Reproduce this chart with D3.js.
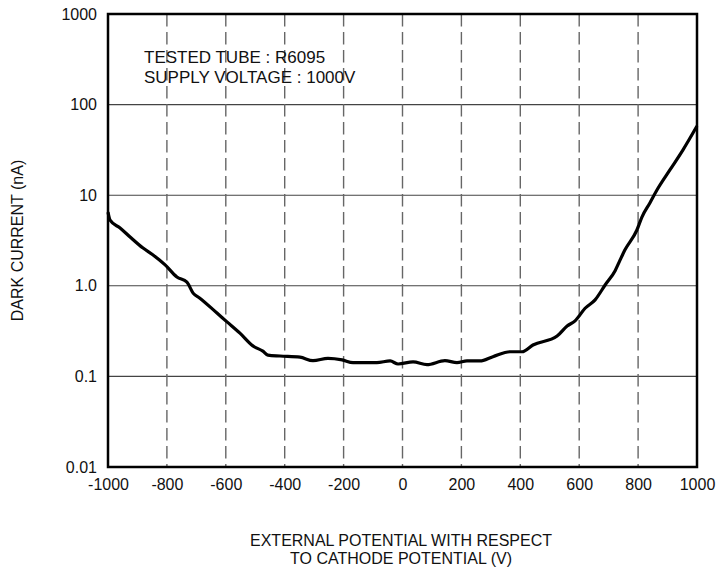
<!DOCTYPE html>
<html>
<head>
<meta charset="utf-8">
<script src="https://cdn.jsdelivr.net/npm/d3@7"></script>
<style>
  html, body { margin: 0; padding: 0; background: #fff; }
  svg { display: block; font-family: "Liberation Sans", Arial, Helvetica, sans-serif; }
</style>
</head>
<body>
<svg id="chart" width="719" height="570"></svg>
<script>
// ---- data ----
const potentials = [-1000,-993,-959,-925,-881,-847,-806,-766,-732,-711,-688,-630,-596,-552,-508,-474,-457,-416,-348,-304,-253,-205,-168,-87,-42,-15,36,83,144,185,219,263,307,365,406,443,525,559,586,620,654,688,722,739,755,796,813,840,864,908,952,1000];
const darkCurrent = [6.5,5.3,4.35,3.46,2.61,2.19,1.70,1.25,1.10,0.83,0.73,0.50,0.40,0.30,0.217,0.19,0.172,0.168,0.163,0.149,0.158,0.152,0.142,0.142,0.148,0.137,0.145,0.135,0.149,0.142,0.148,0.148,0.165,0.187,0.187,0.222,0.279,0.36,0.41,0.565,0.70,1.02,1.47,1.93,2.48,4.13,5.74,8.2,11.4,19.0,31.5,58];
const xTicks = [-1000,-800,-600,-400,-200,0,200,400,600,800,1000];
const yTicks = [0.01,0.1,1,10,100,1000];
const yTickLabels = ["0.01","0.1","1.0","10","100","1000"];
const annotations = ["TESTED TUBE : R6095", "SUPPLY VOLTAGE : 1000V"];
const yTitle = "DARK CURRENT (nA)";
const xTitleLines = ["EXTERNAL POTENTIAL WITH RESPECT", "TO CATHODE POTENTIAL (V)"];

// ---- layout ----
const pLeft = 108, pRight = 697, pTop = 14, pBottom = 467;
const svg = d3.select("#chart");
const x = d3.scaleLinear().domain([-1000, 1000]).range([pLeft, pRight]);
const y = d3.scaleLog().domain([0.01, 1000]).range([pBottom, pTop]);

// horizontal grid
svg.append("g").selectAll("line")
  .data(yTicks.slice(1, -1)).join("line")
  .attr("x1", pLeft).attr("x2", pRight)
  .attr("y1", d => y(d)).attr("y2", d => y(d))
  .attr("stroke", "#444").attr("stroke-width", 1.1);

// vertical dashed grid
svg.append("g").selectAll("line")
  .data(xTicks.slice(1, -1)).join("line")
  .attr("x1", d => x(d)).attr("x2", d => x(d))
  .attr("y1", pTop).attr("y2", pBottom)
  .attr("stroke", "#666").attr("stroke-width", 1.4)
  .attr("stroke-dasharray", "12.5,5.5");

// curve
const line = d3.line()
  .x((d, i) => x(potentials[i]))
  .y((d, i) => y(darkCurrent[i]))
  .curve(d3.curveMonotoneX);
svg.append("path")
  .datum(darkCurrent)
  .attr("d", line)
  .attr("fill", "none")
  .attr("stroke", "#000")
  .attr("stroke-width", 3.2)
  .attr("stroke-linejoin", "round");

// frame
svg.append("rect")
  .attr("x", pLeft).attr("y", pTop)
  .attr("width", pRight - pLeft).attr("height", pBottom - pTop)
  .attr("fill", "none").attr("stroke", "#000").attr("stroke-width", 2.5);

// axes
const yAxis = d3.axisLeft(y).tickValues(yTicks)
  .tickFormat((d, i) => yTickLabels[i]).tickSize(0).tickPadding(11);
const gy = svg.append("g").attr("transform", `translate(${pLeft},0)`).call(yAxis);
gy.select(".domain").remove();
gy.selectAll("text").attr("font-size", 16).attr("fill", "#111")
  .attr("font-family", '"Liberation Sans", Arial, sans-serif');

const xAxis = d3.axisBottom(x).tickValues(xTicks).tickFormat(d3.format("d")).tickSize(0).tickPadding(12);
const gx = svg.append("g").attr("transform", `translate(0,${pBottom})`).call(xAxis);
gx.select(".domain").remove();
gx.selectAll("text").attr("font-size", 16).attr("fill", "#111")
  .attr("font-family", '"Liberation Sans", Arial, sans-serif')
  .text(d => d < 0 ? "-" + Math.abs(d) : String(d));

// annotation
svg.append("g").selectAll("text")
  .data(annotations).join("text")
  .attr("x", 144).attr("y", (d, i) => 62.5 + i * 20.5)
  .attr("font-size", 17).attr("fill", "#111")
  .text(d => d);

// y title
svg.append("text")
  .attr("transform", `translate(23,${(pTop + pBottom) / 2}) rotate(-90)`)
  .attr("text-anchor", "middle")
  .attr("font-size", 16).attr("fill", "#111")
  .text(yTitle);

// x title
svg.append("g").selectAll("text")
  .data(xTitleLines).join("text")
  .attr("x", 401).attr("y", (d, i) => 545.5 + i * 18)
  .attr("text-anchor", "middle")
  .attr("font-size", 16).attr("fill", "#111")
  .text(d => d);
</script>
</body>
</html>
